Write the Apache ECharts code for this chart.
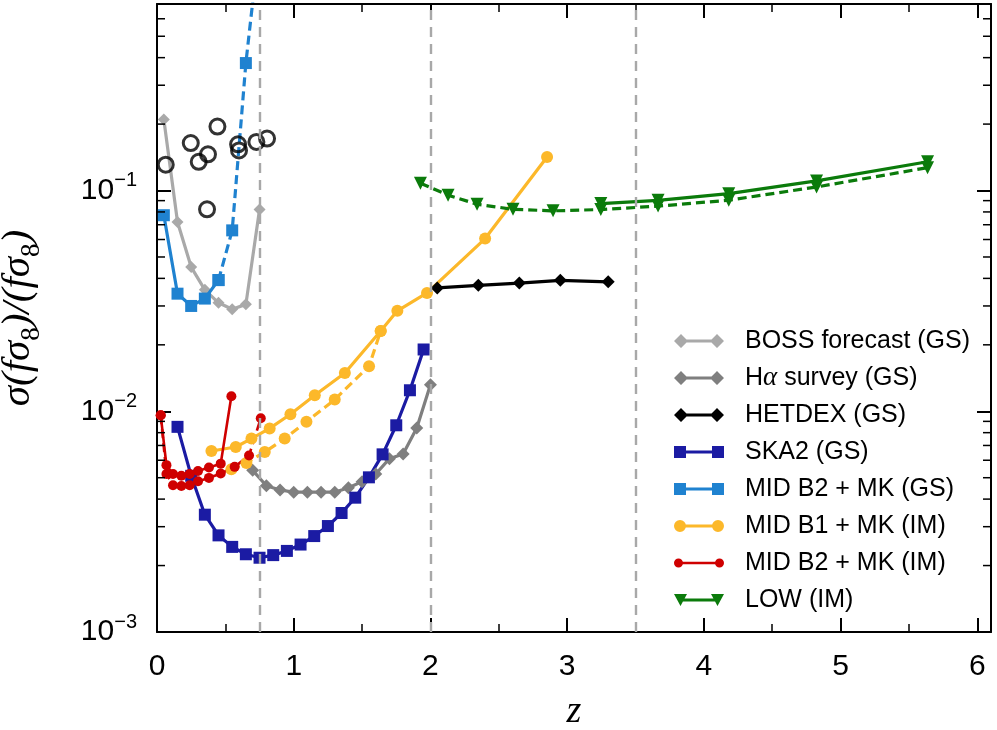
<!DOCTYPE html>
<html><head><meta charset="utf-8">
<script src="https://cdn.jsdelivr.net/npm/echarts@6/dist/echarts.min.js"></script>
<style>html,body{margin:0;padding:0;background:#fff}#c{width:997px;height:730px}</style>
</head><body><div id="c"></div>
<script>
// ---- data ----
const bossZ = [0.05,0.15,0.25,0.35,0.45,0.55,0.65,0.75];
const bossV = [0.21,0.072,0.045,0.0355,0.031,0.029,0.0305,0.082];

const haZ = [0.7,0.8,0.9,1.0,1.1,1.2,1.3,1.4,1.5,1.6,1.7,1.8,1.9,2.0];
const haV = [0.0054,0.0046,0.0044,0.0043,0.0043,0.0043,0.0043,0.0045,0.0048,0.0052,0.0061,0.0064,0.0084,0.0132];

const hetZ = [2.05,2.35,2.65,2.95,3.3];
const hetV = [0.0362,0.0372,0.0381,0.0392,0.0386];

const skaZ = [0.15,0.25,0.35,0.45,0.55,0.65,0.75,0.85,0.95,1.05,1.15,1.25,1.35,1.45,1.55,1.65,1.75,1.85,1.95];
const skaV = [0.0085,0.0051,0.0034,0.00274,0.00243,0.00225,0.00217,0.00223,0.00233,0.00249,0.00272,0.00302,0.00346,0.00406,0.00502,0.00638,0.00864,0.01245,0.01905];

const midGsZ = [0.05,0.15,0.25,0.35,0.45];
const midGsV = [0.0773,0.0341,0.030,0.0324,0.0393];
const midGsDashZ = [0.45,0.55,0.65,0.75];
const midGsDashV = [0.0393,0.066,0.378,1.35];

const b1Z = [0.398,0.576,0.691,0.824,0.976,1.154,1.374,1.636,1.758,1.975,2.40,2.853];
const b1V = [0.00661,0.00689,0.00752,0.00836,0.00969,0.01182,0.01491,0.02312,0.02853,0.03436,0.0606,0.1419];
const b1DashZ = [0.544,0.654,0.788,0.934,1.093,1.30,1.551,1.636];
const b1DashV = [0.00546,0.00583,0.00654,0.00752,0.00896,0.0113,0.0160,0.02312];

const b2Z = [0.027,0.069,0.117,0.178,0.239,0.30,0.38,0.466,0.544];
const b2V = [0.0096,0.0057,0.0052,0.0051,0.0052,0.00536,0.00556,0.00579,0.0117];
const b2DashZ = [0.027,0.069,0.117,0.178,0.239,0.30,0.38,0.466,0.568,0.673,0.759];
const b2DashV = [0.0096,0.0052,0.00462,0.00459,0.00462,0.00482,0.00499,0.00522,0.0056,0.0063,0.0093];

const lowZ = [3.246,3.665,4.182,4.824,5.636];
const lowV = [0.0873,0.0903,0.0968,0.1106,0.135];
const lowDashZ = [1.927,2.129,2.341,2.604,2.897,3.246,3.665,4.182,4.824,5.636];
const lowDashV = [0.108,0.0953,0.0867,0.0822,0.0809,0.082,0.085,0.0904,0.1038,0.127];

const circZ = [0.064,0.247,0.305,0.373,0.366,0.442,0.593,0.60,0.727,0.805];
const circV = [0.131,0.164,0.135,0.146,0.0822,0.195,0.162,0.152,0.166,0.172];

const dividerZ = [0.75,2.0,3.5];
const xMin = 0, xMax = 6.1, xStep = 1;
const yMin = 0.001, yMax = 0.7;
const yMinorTicks = [0.002,0.003,0.004,0.005,0.006,0.007,0.008,0.009,
                     0.02,0.03,0.04,0.05,0.06,0.07,0.08,0.09,
                     0.2,0.3,0.4,0.5,0.6];

const names = ['BOSS forecast (GS)','Hα survey (GS)','HETDEX (GS)','SKA2 (GS)',
               'MID B2 + MK (GS)','MID B1 + MK (IM)','MID B2 + MK (IM)','LOW (IM)'];

// ---- styling ----
const C = {
  boss:'#a9a9a9', ha:'#7f7f7f', het:'#000000', ska:'#1b1ba3',
  midgs:'#1f82d0', b1:'#fcb82a', b2:'#cf0000', low:'#0b7b0b'
};
function pairs(z,v){ return z.map((x,i)=>[x,v[i]]); }
function line(name, z, v, color, symbol, size, opts){
  return Object.assign({
    type:'line', name, data:pairs(z,v), symbol, symbolSize:size,
    lineStyle:{color, width:3.2}, itemStyle:{color},
    showAllSymbol:true, animation:false, silent:true, z:3
  }, opts||{});
}
const dashStyle = (color,w)=>({color, width:w||3.2, type:[9,5]});

const ICON = {
  diamond:'path://M0,7L7,0L14,7L7,14ZM7,5.5L43,5.5L43,8.5L7,8.5ZM36,7L43,0L50,7L43,14Z',
  square:'path://M0,1L12,1L12,13L0,13ZM6,5.5L44,5.5L44,8.5L6,8.5ZM38,1L50,1L50,13L38,13Z',
  circle:'path://M0,7A6,6 0 1,1 12,7A6,6 0 1,1 0,7ZM6,5.5L44,5.5L44,8.5L6,8.5ZM38,7A6,6 0 1,1 50,7A6,6 0 1,1 38,7Z',
  smallcircle:'path://M0,7A4.5,4.5 0 1,1 9,7A4.5,4.5 0 1,1 0,7ZM4.5,5.8L45.5,5.8L45.5,8.2L4.5,8.2ZM41,7A4.5,4.5 0 1,1 50,7A4.5,4.5 0 1,1 41,7Z',
  tri:'path://M0,1L13,1L6.5,13ZM6.5,5.5L43.5,5.5L43.5,8.5L6.5,8.5ZM37,1L50,1L43.5,13Z'
};
const legendIcons = [ICON.diamond, ICON.diamond, ICON.diamond, ICON.square, ICON.square, ICON.circle, ICON.smallcircle, ICON.tri];

const dividerStyle = {color:'#a8a8a8', width:2.4, type:[10,7]};
const series = [
  line(names[0], bossZ, bossV, C.boss, 'diamond', 12, {
    markLine:{silent:true, symbol:['none','none'], label:{show:false}, animation:false,
      lineStyle:dividerStyle,
      data: dividerZ.map(x=>({xAxis:x, lineStyle:dividerStyle}))}, z:2
  }),
  line(names[1], haZ, haV, C.ha, 'diamond', 13),
  line(names[2], hetZ, hetV, C.het, 'diamond', 13),
  line(names[3], skaZ, skaV, C.ska, 'rect', 12),
  line(names[4], midGsZ, midGsV, C.midgs, 'rect', 12),
  line('midgs-dash', midGsDashZ, midGsDashV, C.midgs, 'rect', 12, {lineStyle:dashStyle(C.midgs)}),
  line(names[5], b1Z, b1V, C.b1, 'circle', 12),
  line('b1-dash', b1DashZ, b1DashV, C.b1, 'circle', 12, {lineStyle:dashStyle(C.b1)}),
  line(names[6], b2Z, b2V, C.b2, 'circle', 10, {lineStyle:{color:C.b2,width:2.6}}),
  line('b2-dash', b2DashZ, b2DashV, C.b2, 'circle', 10, {lineStyle:dashStyle(C.b2,2.6)}),
  line(names[7], lowZ, lowV, C.low, 'triangle', 13, {symbolRotate:180}),
  line('low-dash', lowDashZ, lowDashV, C.low, 'triangle', 13, {symbolRotate:180, lineStyle:dashStyle(C.low)}),
  {type:'scatter', name:'points', data:pairs(circZ,circV), symbol:'circle', symbolSize:15,
   itemStyle:{color:'rgba(0,0,0,0)', borderColor:'#000', borderWidth:3}, silent:true, animation:false, z:4},
  {type:'custom', name:'minor', silent:true, animation:false, z:10,
   data: yMinorTicks.map(v=>[xMin,v]),
   renderItem:(params, api)=>{
     const v = api.value(1);
     const p0 = api.coord([xMin, v]);
     const p1 = api.coord([xMax, v]);
     return {type:'group', children:[
       {type:'line', shape:{x1:p0[0], y1:p0[1], x2:p0[0]+8, y2:p0[1]}, style:{stroke:'#000', lineWidth:1.5}},
       {type:'line', shape:{x1:p1[0]-8, y1:p1[1], x2:p1[0], y2:p1[1]}, style:{stroke:'#000', lineWidth:1.5}}
     ]};
   }}
];

const axisCommonX = {
  type:'value', min:xMin, max:xMax, interval:xStep,
  axisLine:{show:true, onZero:false, lineStyle:{color:'#000', width:2}},
  axisTick:{show:true, inside:true, length:14, lineStyle:{color:'#000', width:2}},
  minorTick:{show:true, splitNumber:2, length:8, lineStyle:{color:'#000', width:1.5}},
  splitLine:{show:false}
};
const axisCommonY = {
  type:'log', logBase:10, min:yMin, max:yMax,
  axisLine:{show:true, onZero:false, lineStyle:{color:'#000', width:2}},
  axisTick:{show:true, inside:true, length:14, lineStyle:{color:'#000', width:2}},
  splitLine:{show:false}, minorSplitLine:{show:false}
};

const option = {
  backgroundColor:'#ffffff',
  animation:false,
  grid:{left:157, right:6, top:4, bottom:98, containLabel:false, outerBoundsMode:'none'},
  xAxis:[
    Object.assign({}, axisCommonX, {
      position:'bottom', name:'z', nameLocation:'middle', nameGap:61,
      nameTextStyle:{fontFamily:'Liberation Serif', fontStyle:'italic', fontSize:38, color:'#000'},
      axisLabel:{show:true, margin:20, fontSize:30, fontFamily:'Liberation Sans', color:'#000',
        formatter:v=> (Math.abs(v-Math.round(v))<1e-9 ? String(Math.round(v)) : '')}
    }),
    Object.assign({}, axisCommonX, {position:'top', axisLabel:{show:false}})
  ],
  yAxis:[
    Object.assign({}, axisCommonY, {
      position:'left',
      name:'{i|σ(fσ}{s|8}{i|)/(fσ}{s|8}{i|)}', nameLocation:'middle', nameGap:112,
      nameTextStyle:{rich:{
        i:{fontFamily:'Liberation Serif', fontStyle:'italic', fontSize:41, color:'#000', lineHeight:54, verticalAlign:'middle'},
        s:{fontFamily:'Liberation Serif', fontSize:27, color:'#000', lineHeight:54, verticalAlign:'bottom'}
      }},
      axisLabel:{show:true, margin:20, showMaxLabel:false,
        formatter:v=>{
          const e = Math.log10(v);
          if (Math.abs(e-Math.round(e))>1e-6) return '';
          return '{b|10}{s|−' + Math.abs(Math.round(e)) + '}';
        },
        rich:{
          b:{fontSize:30, fontFamily:'Liberation Sans', color:'#000', lineHeight:40, verticalAlign:'middle'},
          s:{fontSize:20, fontFamily:'Liberation Sans', color:'#000', lineHeight:40, verticalAlign:'top'}
        }}
    }),
    Object.assign({}, axisCommonY, {position:'right', axisLabel:{show:false}})
  ],
  legend:{
    orient:'vertical', left:674, top:327, padding:0, itemGap:9,
    itemWidth:50, itemHeight:14, selectedMode:false,
    data: names.map((n,i)=>({name:n, icon:legendIcons[i]})),
    formatter: n => '{p| }' + n.replace('α','{a|α}'),
    textStyle:{fontSize:25, fontFamily:'Liberation Sans', color:'#000', lineHeight:28,
      rich:{p:{width:16, fontSize:25}, a:{fontFamily:'Liberation Serif', fontStyle:'italic', fontSize:27, color:'#000'}}}
  },
  series
};
const chart = echarts.init(document.getElementById('c'), null, {renderer:'canvas'});
chart.setOption(option);
</script></body></html>
